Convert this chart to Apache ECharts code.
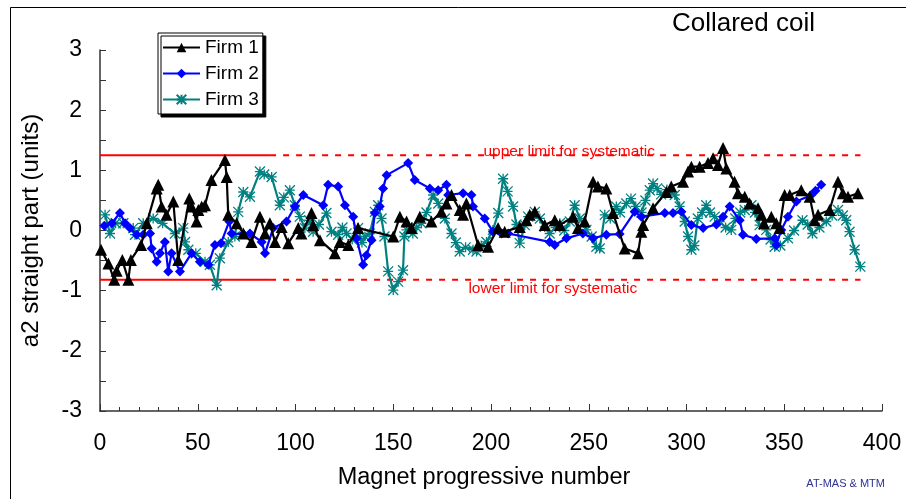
<!DOCTYPE html>
<html><head><meta charset="utf-8">
<script src="https://cdn.jsdelivr.net/npm/echarts@6/dist/echarts.min.js"></script>
<style>html,body{margin:0;padding:0;background:#fff}#c{width:906px;height:499px}</style>
</head><body><div id="c"></div>
<script>
const xTicks = [0,50,100,150,200,250,300,350,400];
const yTicks = [-3,-2,-1,0,1,2,3];
const upperLimit = 1.25;
const lowerLimit = -0.82;
const limitSolidX = [0, 87];
const limitDashX = [87, 389];

const firm1X = [0.5,4.3,7.3,8.5,11.4,14.5,15.8,21,23.9,29,29.8,31.5,34,37.5,40,45.7,46.8,49.4,50.3,52,53.7,57,63.9,64.8,65.6,69.9,73.3,77.5,81.8,84.4,86.9,89.5,92.9,96.3,101.4,103,108.2,109,112.5,120.1,122.7,127,132,150,153.4,156.8,159.3,163.6,169.5,174.6,177.2,179.8,184,185.7,187.4,193.4,198.5,203.6,207,214.7,218.1,219.8,222.4,227.5,232.6,235.2,242,244.5,247.9,252.2,254.7,259,262.4,268.4,275.2,276.9,277.8,282.9,289.7,292.2,298.2,300.8,302.5,306.7,311,313.6,316.1,318.7,320.4,324.6,326.3,329.8,332.3,336.6,338.3,339.6,343.4,345.9,347.6,350.2,352.8,358.7,363,365.5,367.3,373.2,377.5,380,382.6,387.7];
const firm1Y = [-0.32,-0.55,-0.82,-0.67,-0.49,-0.82,-0.49,-0.24,0.12,0.70,0.76,0.40,0.26,0.48,-0.49,0.53,0.40,0.15,0.34,0.40,0.42,0.84,1.17,0.89,0.26,0.12,-0.05,-0.19,0.23,-0.05,0.12,-0.19,0.06,-0.21,0.04,-0.05,0.29,0.09,-0.16,-0.38,-0.19,-0.24,0.04,-0.10,0.23,0.15,0.04,0.23,0.15,0.31,0.45,0.59,0.34,0.26,0.45,-0.24,-0.27,0.04,-0.02,0.06,0.17,0.26,0.31,0.09,0.17,0.09,0.23,0.04,0.15,0.81,0.73,0.70,0.29,-0.30,-0.38,-0.02,0.09,0.37,0.64,0.73,0.81,0.98,1.06,1.06,1.12,1.20,1.09,1.37,1.03,0.81,0.62,0.56,0.45,0.37,0.26,0.12,0.23,0.12,0.04,0.59,0.59,0.67,0.56,0.17,0.26,0.34,0.81,0.62,0.56,0.62];

const firm2X = [2.2,6,10.2,12.8,15.3,18.8,22.1,25.6,26.4,29,30.7,33.2,34.9,36.6,40.9,46.8,51.1,55.4,58.8,61.9,66.1,67.3,73.3,76.7,82.7,84.4,88.6,95.4,99.7,104,114.2,116.7,121.8,125.3,129.5,131.2,134.6,136.3,138.9,140.6,143.1,144.8,146.6,157.6,161,168.7,173,177.2,178.1,185.7,190,190.8,196.8,201,205.4,208.8,230,232.6,238.6,247,252.2,259,265.8,273.5,276.9,288.9,293.1,297.4,302.5,308.5,315.3,318.7,322.1,327.2,328.9,335.7,345.1,345.9,348.5,351.9,356.2,363.8,366,368.9];
const firm2Y = [0.08,0.12,0.29,0.12,0.04,-0.07,-0.07,-0.05,-0.30,-0.52,-0.38,-0.19,-0.68,-0.38,-0.68,-0.38,-0.52,-0.57,-0.24,-0.21,0.15,-0.05,-0.06,-0.05,-0.19,-0.38,0.04,0.15,0.40,0.59,0.42,0.76,0.73,0.42,0.23,-0.13,-0.57,-0.41,-0.16,0.29,0.40,0.70,0.92,1.12,0.84,0.70,0.67,0.76,0.59,0.62,0.59,0.40,0.20,-0.02,-0.05,-0.05,-0.19,-0.24,-0.13,-0.05,-0.13,-0.07,-0.06,0.31,0.23,0.29,0.29,0.31,0.09,0.04,0.10,0.23,0.40,0.17,-0.07,-0.14,-0.13,-0.24,0.01,0.23,0.48,0.59,0.66,0.76];

const firm3X = [2.6,5.1,8,11.9,17,17.9,22.1,27.2,32,38.3,42.6,43.5,45.2,49,53.7,56.2,59.7,61.3,65.6,69,70.7,73.3,76.7,81.8,84,87.8,92,94,97.1,99.7,102.2,104.8,107,109,112,115.8,118.4,121.8,124,126.1,129,132,134,135.5,138,140.6,142.3,144,145.5,147.4,150,152.5,155,155.7,156.8,160,162,164.4,167,170.4,173,176.4,179.8,182,184,187,190.8,192.6,195,197.7,201,203.7,206.2,208.5,211.3,213,214.7,217.3,219,222.4,225,227.5,230,233,235.2,237.5,240.3,242.8,245.4,248.8,251.5,253.9,255.6,258.2,261,264.1,266,269.2,271.6,274,277,279,281.2,282.9,285,287,290,294,296.5,299.1,300.8,302.5,304,305.8,308,310.1,312,314.4,317,320,322.9,325,327.5,329.8,333.2,335,337.4,340.8,343,345.1,348,351.9,355,359.3,362,364.4,368,371.5,374.5,377.5,380,381.7,383.4,386,388.9];
const firm3Y = [0.26,-0.05,0.12,0.12,0.04,-0.07,0.12,0.20,0.12,-0.05,0.04,-0.19,-0.32,-0.38,-0.52,-0.57,-0.91,-0.46,-0.19,-0.10,0.31,0.64,0.56,0.98,0.93,0.89,0.42,0.55,0.67,0.42,0.23,0.04,0.17,-0.02,0.10,0.29,-0.02,-0.07,0.05,-0.05,-0.15,0.04,-0.20,-0.10,-0.05,0.31,0.42,0.20,-0.10,-0.68,-0.99,-0.85,-0.66,-0.10,0.01,-0.05,0.05,0.12,0.30,0.59,0.45,0.20,-0.05,-0.20,-0.35,-0.28,-0.32,-0.35,-0.25,-0.19,0.01,0.29,0.86,0.65,0.40,0.10,-0.21,0.09,0.23,0.31,0.20,0.06,-0.05,0.05,0.12,0.00,0.15,0.42,0.20,0.01,-0.10,-0.27,-0.30,0.26,0.20,0.40,0.30,0.45,0.53,0.40,0.30,0.50,0.67,0.78,0.70,0.60,0.68,0.59,0.40,0.15,-0.10,-0.32,-0.25,0.20,0.30,0.42,0.30,0.23,0.15,0.05,0.01,0.20,0.30,0.34,0.42,0.30,0.09,0.01,-0.15,-0.27,-0.25,-0.13,0.00,0.17,0.10,-0.05,0.05,0.15,0.25,0.34,0.25,0.17,-0.02,-0.32,-0.60];

const zip = (xs, ys) => xs.map((x, i) => [x, ys[i]]);
const FONT = 'Arial, "Liberation Sans", sans-serif';
const star = 'path://M5,0 L5,10 M0,0 L10,10 M10,0 L0,10 M0,5 L10,5';

const chart = echarts.init(document.getElementById('c'), null, {renderer: 'canvas'});
const option = {
  animation: false,
  backgroundColor: '#fff',
  title: {
    text: 'Collared coil', right: 86, top: 6,
    textStyle: {fontFamily: FONT, fontSize: 26, fontWeight: 'normal', color: '#000'}
  },
  legend: {
    orient: 'vertical', left: 158, top: 33,
    data: ['Firm 1', 'Firm 2', 'Firm 3'],
    backgroundColor: '#fff', borderColor: '#000', borderWidth: 1,
    shadowColor: '#000', shadowOffsetX: 3, shadowOffsetY: 3, shadowBlur: 0,
    padding: [5, 4, 5, 4], itemGap: 7, itemWidth: 37, itemHeight: 12,
    textStyle: {fontFamily: FONT, fontSize: 19, color: '#000'}
  },
  grid: {left: 100, right: 24, top: 50, bottom: 88},
  xAxis: {
    type: 'value', min: 0, max: 400, interval: 50,
    name: 'Magnet progressive number', nameLocation: 'middle', nameGap: 55,
    nameTextStyle: {fontFamily: FONT, fontSize: 23.5, color: '#000', padding: [0, 14, 0, 0]},
    axisLine: {onZero: false, lineStyle: {color: '#333', width: 1.5}},
    axisTick: {inside: true, length: 7, lineStyle: {color: '#333'}},
    minorTick: {show: true, splitNumber: 5, length: 4, lineStyle: {color: '#333'}},
    axisLabel: {fontFamily: FONT, fontSize: 23, color: '#000', margin: 21},
    splitLine: {show: false}
  },
  yAxis: {
    type: 'value', min: -3, max: 3, interval: 1,
    name: 'a2 straight part (units)', nameLocation: 'middle', nameGap: 57,
    nameTextStyle: {fontFamily: FONT, fontSize: 24, color: '#000'},
    axisLine: {show: true, onZero: false, lineStyle: {color: '#333', width: 1.5}},
    axisTick: {show: true, inside: true, length: 6, lineStyle: {color: '#333'}},
    minorTick: {show: true, splitNumber: 2, length: 6, lineStyle: {color: '#333'}},
    axisLabel: {fontFamily: FONT, fontSize: 23, color: '#000', margin: 18},
    splitLine: {show: false}
  },
  series: [
    {name: 'upperSolid', type: 'line', data: [[limitSolidX[0], upperLimit], [limitSolidX[1], upperLimit]], symbol: 'none', lineStyle: {color: '#ff0000', width: 2}, silent: true, z: 1},
    {name: 'upperDash', type: 'line', data: [[limitDashX[0], upperLimit], [limitDashX[1], upperLimit]], symbol: 'none', lineStyle: {color: '#ff0000', width: 2, type: [6, 7]}, silent: true, z: 1},
    {name: 'lowerSolid', type: 'line', data: [[limitSolidX[0], lowerLimit], [limitSolidX[1], lowerLimit]], symbol: 'none', lineStyle: {color: '#ff0000', width: 2}, silent: true, z: 1},
    {name: 'lowerDash', type: 'line', data: [[limitDashX[0], lowerLimit], [limitDashX[1], lowerLimit]], symbol: 'none', lineStyle: {color: '#ff0000', width: 2, type: [6, 7]}, silent: true, z: 1},
    {name: 'Firm 3', type: 'line', data: zip(firm3X, firm3Y), symbol: star, symbolSize: 10,
      lineStyle: {color: '#008080', width: 2.2}, itemStyle: {color: '#008080', borderColor: '#008080', borderWidth: 1.3}, z: 3},
    {name: 'Firm 2', type: 'line', data: zip(firm2X, firm2Y), symbol: 'diamond', symbolSize: 10,
      lineStyle: {color: '#0000ff', width: 2.2}, itemStyle: {color: '#0000ff'}, z: 4},
    {name: 'Firm 1', type: 'line', data: zip(firm1X, firm1Y), symbol: 'triangle', symbolSize: 12,
      lineStyle: {color: '#000', width: 2.2}, itemStyle: {color: '#000'}, z: 5}
  ]
};
chart.setOption(option);

const up = chart.convertToPixel({gridIndex: 0}, [240, upperLimit]);
const lo = chart.convertToPixel({gridIndex: 0}, [231.6, lowerLimit]);
chart.setOption({
  graphic: [
    {type: 'rect', left: 8, top: 5, shape: {width: 1000, height: 1000}, style: {fill: 'none', stroke: '#000', lineWidth: 1}, silent: true, z: -10},
    {type: 'text', x: up[0], y: up[1] - 4, style: {text: 'upper limit for systematic', fill: '#ff0000', font: '15.5px ' + FONT, align: 'center', verticalAlign: 'middle'}},
    {type: 'text', x: lo[0], y: lo[1] + 9, style: {text: 'lower limit for systematic', fill: '#ff0000', font: '15.5px ' + FONT, align: 'center', verticalAlign: 'middle'}},
    {type: 'text', right: 21, top: 478, style: {text: 'AT-MAS & MTM', fill: '#2e3192', font: '11px ' + FONT}}
  ]
});
</script></body></html>
